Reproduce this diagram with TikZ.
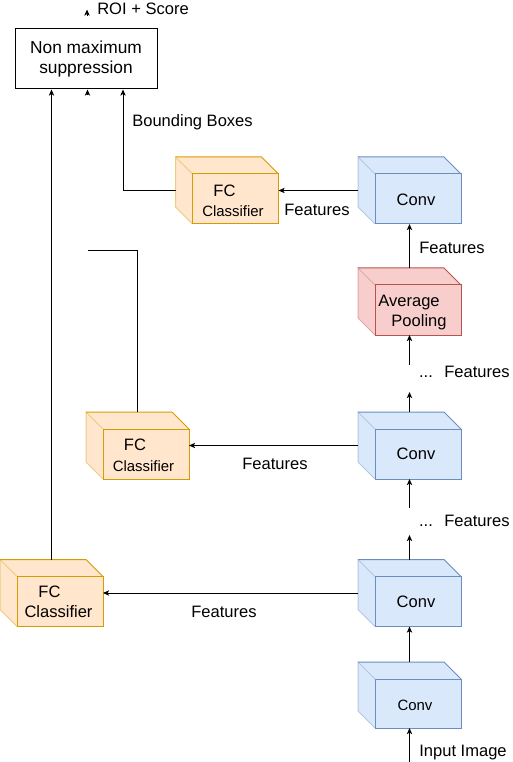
\documentclass[tikz,border=0pt]{standalone}
\usepackage{fontspec}
\setmainfont{Liberation Sans}
\usetikzlibrary{calc,arrows.meta}
\definecolor{bluefill}{HTML}{DAE8FC}
\definecolor{bluestroke}{HTML}{6C8EBF}
\definecolor{orangefill}{HTML}{FFE6CC}
\definecolor{orangestroke}{HTML}{D79B00}
\definecolor{redfill}{HTML}{F8CECC}
\definecolor{redstroke}{HTML}{B85450}
\newcommand\cubeshape[3]{%
  \fill[#2] (#1.north west) -- ($(#1.north east)+(-17,0)$) -- ($(#1.north east)+(0,17)$) -- (#1.south east) -- ($(#1.south west)+(17,0)$) -- ($(#1.south west)+(0,-17)$) -- cycle;
  \draw[#3!50, line width=0.75pt] ($(#1.south west)+(17,0)$) -- ($(#1.south west)+(0,-17)$) -- (#1.north west) -- ($(#1.north west)+(17,17)$);
  \draw[#3, line width=0.75pt, line join=miter] (#1.north west) -- ($(#1.north east)+(-17,0)$) -- ($(#1.north east)+(0,17)$);
  \draw[#3, line width=0.75pt] ($(#1.north west)+(17,17)$) rectangle (#1.south east);
}
\tikzset{
  cubebox/.style={draw=none, inner sep=0pt, outer sep=0pt, minimum width=77.25pt, minimum height=50.25pt},
  lbl/.style={inner sep=0pt, font=\fontsize{12.4pt}{15pt}\selectfont, text height=0.72em, text depth=0pt},
  smalllbl/.style={inner sep=0pt, font=\fontsize{11.2pt}{13.5pt}\selectfont, text height=0.72em, text depth=0pt},
  conn/.style={line width=0.75pt, -{Stealth[length=4.6pt,width=4pt,inset=1.2pt]}},
  plainline/.style={line width=0.75pt},
  nmsbox/.style={draw, line width=0.75pt, inner sep=0pt, minimum width=106.5pt, minimum height=45pt, align=center, font=\fontsize{13pt}{15pt}\selectfont}
}
\begin{document}
\begin{tikzpicture}[x=0.75pt, y=-0.75pt]
\useasboundingbox (0,0) rectangle (512,762);

% Non maximum suppression box
\node[nmsbox] (nms) at (86,59) {Non maximum\\suppression};
\node[lbl] (roi) at (143,10) {ROI + Score};

% cubes
\node[cubebox] (fc1) at (227,190.5) {};
\node[cubebox] (conv1) at (409.5,190.5) {};
\node[cubebox] (avg) at (409.5,301.5) {};
\node[cubebox] (fc2) at (137.5,445.5) {};
\node[cubebox] (conv2) at (409.5,445.5) {};
\node[cubebox] (fc3) at (51.5,593) {};
\node[cubebox] (conv3) at (409.5,593) {};
\node[cubebox, minimum height=49.5pt] (conv4) at (409.5,695) {};

\cubeshape{fc1}{orangefill}{orangestroke}
\cubeshape{conv1}{bluefill}{bluestroke}
\cubeshape{avg}{redfill}{redstroke}
\cubeshape{fc2}{orangefill}{orangestroke}
\cubeshape{conv2}{bluefill}{bluestroke}
\cubeshape{fc3}{orangefill}{orangestroke}
\cubeshape{conv3}{bluefill}{bluestroke}
\cubeshape{conv4}{bluefill}{bluestroke}

% cube labels
\node[lbl] (fc1a) at (224.5,192) {FC};
\node[smalllbl] (fc1b) at (233,212) {Classifier};
\node[lbl] (conv1t) at (416,201) {Conv};
\node[lbl] (avga) at (409,302) {Average};
\node[lbl] (avgb) at (419,322) {Pooling};
\node[lbl] (fc2a) at (135,446) {FC};
\node[smalllbl] (fc2b) at (143.5,467) {Classifier};
\node[lbl] (conv2t) at (416,455) {Conv};
\node[lbl] (fc3a) at (49.5,593) {FC};
\node[lbl] (fc3b) at (58.5,613) {Classifier};
\node[lbl] (conv3t) at (416,603) {Conv};
\node[smalllbl] (conv4t) at (415,706) {Conv};

% free ends
\coordinate (dotsA) at (409.5,365);
\coordinate (dotsAin) at (409.5,392);
\coordinate (dotsB) at (409.5,508);
\coordinate (dotsBin) at (409.5,535);
\coordinate (imgin) at (409.5,762);
\coordinate (midend) at (88,251);

% connectors
\draw[conn] (conv1.west) -- (fc1.east);
\draw[conn] (avg.north) -- (conv1.south);
\draw[conn] (dotsA) -- (avg.south);
\draw[conn] (conv2.north) -- (dotsAin);
\draw[conn] (conv2.west) -- (fc2.east);
\draw[conn] (dotsB) -- (conv2.south);
\draw[conn] (conv3.north) -- (dotsBin);
\draw[conn] (conv3.west) -- (fc3.east);
\draw[conn] (conv4.north) -- (conv3.south);
\draw[conn] (imgin) -- (conv4.south);

\draw[conn] (fc1.west) -| ($(nms.south)+(37,0)$);
\draw[conn] (fc3.north) -- (fc3.north |- nms.south);
\draw[plainline] (fc2.north) |- (midend);
% lone arrow heads
\draw[conn] ($(nms.south)+(1.5,6)$) -- ($(nms.south)+(1.5,0)$);
\draw[conn] ($(nms.north)+(1,-12)$) -- ($(nms.north)+(1,-19)$);

% connector labels
\node[lbl] (bb) at (192.5,122) {Bounding Boxes};
\node[lbl] (f1) at (317,211) {Features};
\node[lbl] (f2) at (452,249) {Features};
\node[lbl] (d1) at (426,373) {...};
\node[lbl] (f3) at (477,373) {Features};
\node[lbl] (f4) at (275,465) {Features};
\node[lbl] (d2) at (426,522) {...};
\node[lbl] (f5) at (477,522) {Features};
\node[lbl] (f6) at (224,613) {Features};
\node[lbl] (inp) at (463,752) {Input Image};
\end{tikzpicture}
\end{document}
